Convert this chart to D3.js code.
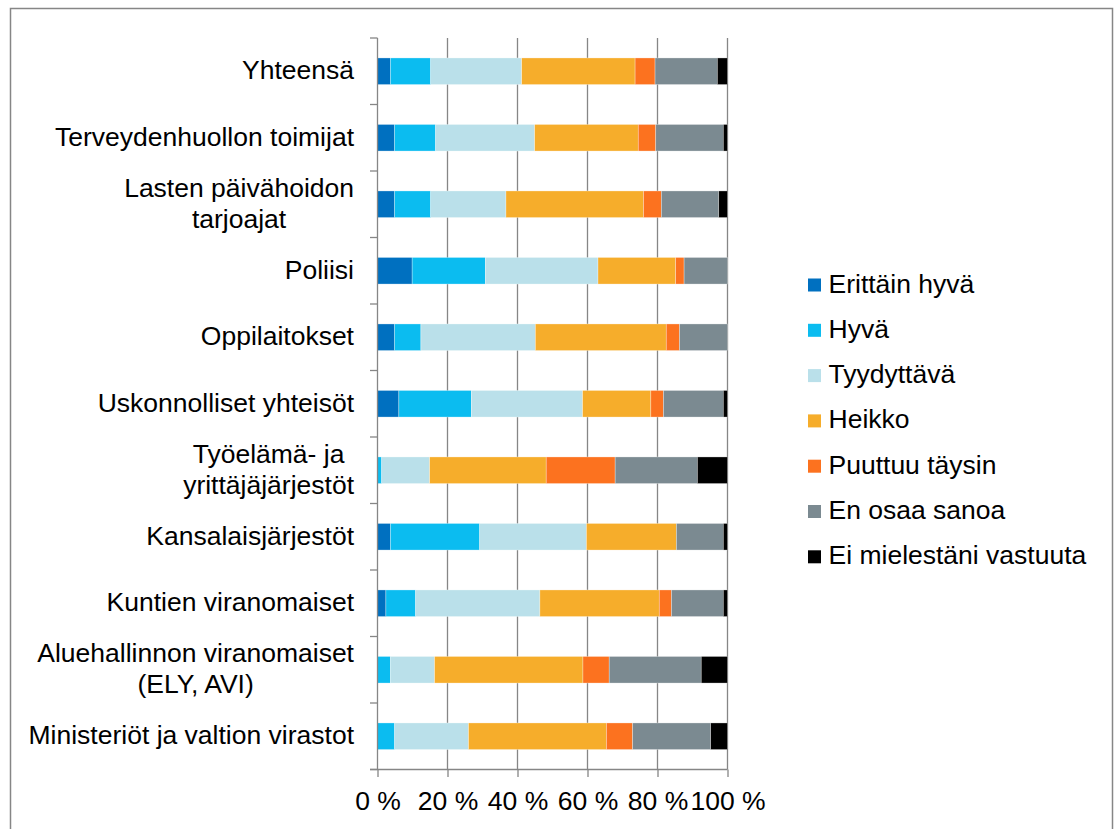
<!DOCTYPE html>
<html>
<head>
<meta charset="utf-8">
<script src="https://cdn.jsdelivr.net/npm/d3@7"></script>
<style>
  body { margin: 0; background: #fff; }
  text { font-family: "Liberation Sans", Arial, sans-serif; fill: #000; }
</style>
</head>
<body>
<svg id="chart" width="1114" height="829"></svg>
<script>

// Categories (top to bottom), lines of each label
var categories = [
    ["Yhteensä"],
    ["Terveydenhuollon toimijat"],
    ["Lasten päivähoidon", "tarjoajat"],
    ["Poliisi"],
    ["Oppilaitokset"],
    ["Uskonnolliset yhteisöt"],
    ["Työelämä- ja", "yrittäjäjärjestöt"],
    ["Kansalaisjärjestöt"],
    ["Kuntien viranomaiset"],
    ["Aluehallinnon viranomaiset", "(ELY, AVI)"],
    ["Ministeriöt ja valtion virastot"]
];

// Series names and colours
var seriesNames = ["Erittäin hyvä", "Hyvä", "Tyydyttävä", "Heikko", "Puuttuu täysin", "En osaa sanoa", "Ei mielestäni vastuuta"];
var seriesColors = ["#0070C0", "#0BBCF0", "#BAE0EA", "#F6AD2B", "#FC721F", "#7B8A91", "#000000"];

// Percent values per series, one per category
var erittainHyva = [3.7, 4.9, 4.9, 9.9, 4.9, 6.1, 0.0, 3.7, 2.4, 0.0, 0.0];
var hyva         = [11.5, 11.7, 10.3, 20.9, 7.5, 20.7, 1.2, 25.5, 8.5, 3.7, 4.9];
var tyydyttava   = [26.0, 28.3, 21.5, 32.2, 32.7, 31.8, 13.7, 30.5, 35.5, 12.6, 21.1];
var heikko       = [32.4, 29.6, 39.3, 22.2, 37.4, 19.5, 33.3, 25.7, 34.1, 42.4, 39.4];
var puuttuu      = [5.7, 5.0, 5.1, 2.4, 3.8, 3.6, 19.7, 0.0, 3.5, 7.5, 7.5];
var enOsaa       = [17.8, 19.3, 16.4, 12.4, 13.7, 17.1, 23.5, 13.4, 14.8, 26.3, 22.3];
var eiVastuuta   = [2.9, 1.2, 2.5, 0.0, 0.0, 1.2, 8.6, 1.2, 1.2, 7.5, 4.8];

var xTicks = [0, 20, 40, 60, 80, 100];

var seriesValues = [erittainHyva, hyva, tyydyttava, heikko, puuttuu, enOsaa, eiVastuuta];

/*****************************/
// Setup
/*****************************/

var svg = d3.select('#chart');
var fontSize = 26.5;
var axisColor = '#868686';

// Outer chart border (bottom edge runs past the picture)
svg.append('rect')
    .attr('x', 10.5)
    .attr('y', 8.5)
    .attr('width', 1102)
    .attr('height', 900)
    .attr('fill', 'none')
    .attr('stroke', axisColor)
    .attr('stroke-width', 1.5);

var plot = {left: 377.5, right: 727.5, top: 38, bottom: 769.5};

var xScale = d3.scaleLinear().domain([0, 100]).range([plot.left, plot.right]);

var yScale = d3.scaleBand()
    .domain(d3.range(categories.length))
    .range([plot.top, plot.bottom])
    .paddingInner(0.6)
    .paddingOuter(0.3);

var step = yScale.step();

// Build rows for stacking
var rows = categories.map(function(c, i) {
    var row = {index: i};
    seriesNames.forEach(function(s, j) { row[s] = seriesValues[j][i]; });
    return row;
});

var stack = d3.stack().keys(seriesNames);
var layers = stack(rows);

/*****************************/
// Gridlines
/*****************************/

svg.append('g')
    .selectAll('line')
    .data(xTicks.slice(1))
    .enter().append('line')
    .attr('x1', function(d) { return xScale(d); })
    .attr('x2', function(d) { return xScale(d); })
    .attr('y1', plot.top)
    .attr('y2', plot.bottom)
    .attr('stroke', axisColor)
    .attr('stroke-width', 1.3);

/*****************************/
// Bars
/*****************************/

svg.append('g')
    .selectAll('g')
    .data(layers)
    .enter().append('g')
    .attr('fill', function(d, i) { return seriesColors[i]; })
    .selectAll('rect')
    .data(function(d) { return d; })
    .enter().append('rect')
    .attr('x', function(d) { return xScale(d[0]); })
    .attr('width', function(d) { return Math.max(0, xScale(d[1]) - xScale(d[0])); })
    .attr('y', function(d) { return yScale(d.data.index); })
    .attr('height', yScale.bandwidth())
    .attr('stroke', 'rgba(255,255,255,0.5)')
    .attr('stroke-width', 0.6);

/*****************************/
// Axes
/*****************************/

// y axis line and category ticks
svg.append('line')
    .attr('x1', plot.left).attr('x2', plot.left)
    .attr('y1', plot.top).attr('y2', plot.bottom)
    .attr('stroke', axisColor).attr('stroke-width', 1.3);

svg.append('g')
    .selectAll('line')
    .data(d3.range(categories.length + 1))
    .enter().append('line')
    .attr('x1', plot.left - 7.5)
    .attr('x2', plot.left)
    .attr('y1', function(d) { return plot.top + d * step; })
    .attr('y2', function(d) { return plot.top + d * step; })
    .attr('stroke', axisColor).attr('stroke-width', 1.3);

// x axis
var xAxis = svg.append('g')
    .attr('transform', 'translate(0,' + plot.bottom + ')')
    .call(d3.axisBottom(xScale).tickValues(xTicks).tickSize(7.5).tickPadding(14)
        .tickFormat(function(d) { return d + ' %'; }));

xAxis.select('.domain')
    .attr('d', 'M' + (plot.left - 7.5) + ',0H' + plot.right)
    .attr('stroke', axisColor).attr('stroke-width', 1.3);
xAxis.selectAll('.tick line').attr('stroke', axisColor).attr('stroke-width', 1.3);
xAxis.selectAll('.tick text')
    .attr('font-size', fontSize)
    .attr('font-family', '"Liberation Sans", Arial, sans-serif')
    .attr('fill', '#000');

// Category labels (multi-line blocks are centred, block right-aligned)
var labelRight = 354;
var lineGap = 31;

categories.forEach(function(lines, i) {
    var cy = yScale(i) + yScale.bandwidth() / 2;
    var t = svg.append('text')
        .attr('font-size', fontSize)
        .attr('text-anchor', 'middle');
    var spans = lines.map(function(l, k) {
        return t.append('tspan')
            .attr('y', cy + 8 + (k - (lines.length - 1) / 2) * lineGap)
            .text(l);
    });
    var w = d3.max(spans, function(s) { return s.node().getComputedTextLength(); });
    spans.forEach(function(s) { s.attr('x', labelRight - w / 2); });
});

/*****************************/
// Legend
/*****************************/

var legend = svg.append('g')
    .selectAll('g')
    .data(seriesNames)
    .enter().append('g')
    .attr('transform', function(d, i) { return 'translate(808,' + (285 + i * 45.3) + ')'; });

legend.append('rect')
    .attr('x', 0).attr('y', -6.5)
    .attr('width', 13).attr('height', 13)
    .attr('fill', function(d, i) { return seriesColors[i]; });

legend.append('text')
    .attr('x', 20.5)
    .attr('y', 7.5)
    .attr('font-size', fontSize)
    .text(function(d) { return d; });

</script>
</body>
</html>
